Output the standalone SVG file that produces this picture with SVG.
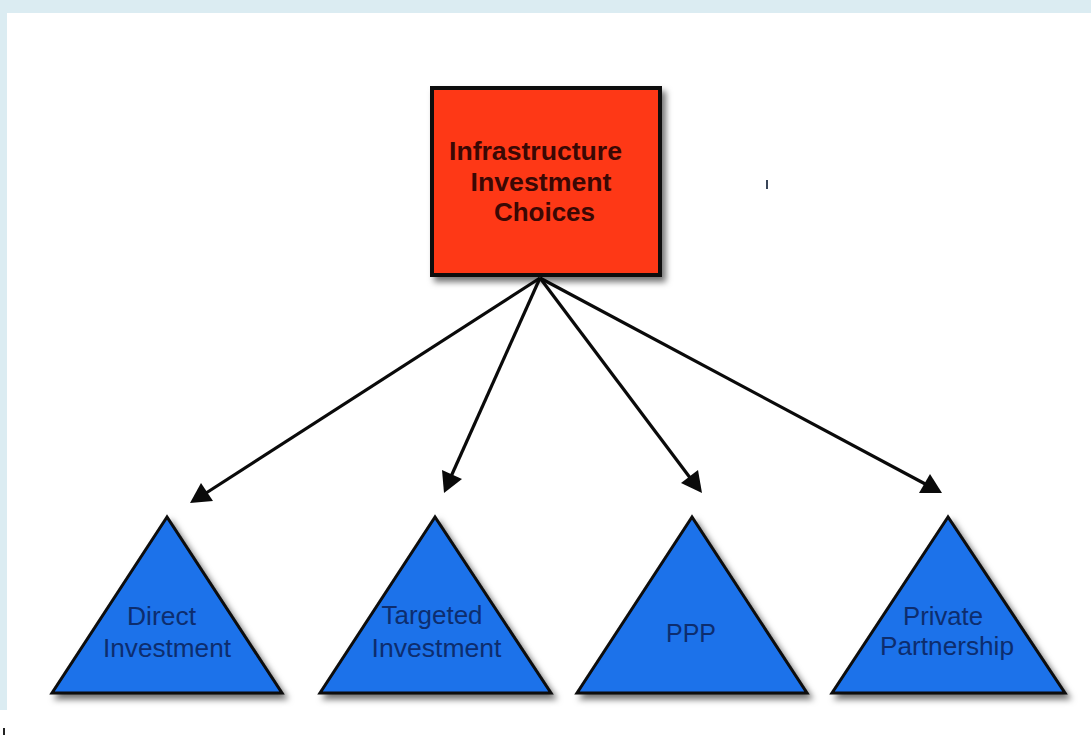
<svg xmlns="http://www.w3.org/2000/svg" width="1091" height="735" viewBox="0 0 1091 735">
  <style>
    .frame { fill: #dbecf2; }
    .root { fill: #fe3812; stroke: #0a0a0a; stroke-width: 4; }
    .leaf { fill: #1b72ea; stroke: #0a0a0a; stroke-width: 3; stroke-linejoin: miter; }
    .root-text { font-family: "Liberation Sans", Arial, sans-serif; font-weight: bold; font-size: 26px; fill: #3a0804; text-anchor: middle; }
    .leaf-text { font-family: "Liberation Sans", Arial, sans-serif; font-size: 26px; fill: #0d2d6e; text-anchor: middle; }
    .edge { stroke: #0a0a0a; stroke-width: 3.2; fill: none; }
    .head { fill: #0a0a0a; }
  </style>
  <defs>
    <filter id="shadow" x="-10%" y="-10%" width="130%" height="130%">
      <feDropShadow dx="4" dy="5" stdDeviation="3" flood-color="#000" flood-opacity="0.55"/>
    </filter>
  </defs>

  <!-- page background with light blue frame -->
  <rect x="0" y="0" width="1091" height="735" fill="#ffffff"/>
  <rect class="frame" x="0" y="0" width="1091" height="13"/>
  <rect class="frame" x="0" y="0" width="7" height="710"/>
  <rect x="3" y="728" width="2" height="7" fill="#222"/>
  <rect x="766" y="180" width="2" height="9" fill="#3a4658"/>

  <!-- connectors -->
  <g id="connectors">
    <line class="edge" x1="540" y1="278" x2="203" y2="495"/>
    <polygon class="head" points="190,503 201,483 213,501"/>
    <line class="edge" x1="540" y1="278" x2="449" y2="481"/>
    <polygon class="head" points="444,493 442,470 462,479"/>
    <line class="edge" x1="540" y1="278" x2="694" y2="483"/>
    <polygon class="head" points="702,493 681,483 698,470"/>
    <line class="edge" x1="540" y1="278" x2="929" y2="486"/>
    <polygon class="head" points="942,493 919,493 930,474"/>
  </g>

  <!-- root node -->
  <g id="node-root">
    <rect class="root" x="432" y="88" width="228" height="187" filter="url(#shadow)"/>
    <text class="root-text" x="535.5" y="160" textLength="173" lengthAdjust="spacingAndGlyphs">Infrastructure</text>
    <text class="root-text" x="541" y="191" textLength="141" lengthAdjust="spacingAndGlyphs">Investment</text>
    <text class="root-text" x="544.5" y="221" textLength="101" lengthAdjust="spacingAndGlyphs">Choices</text>
  </g>

  <!-- leaf nodes -->
  <g id="node-direct">
    <polygon class="leaf" points="167,517 52,693 282,693" filter="url(#shadow)"/>
    <text class="leaf-text" x="161.5" y="625" textLength="69" lengthAdjust="spacingAndGlyphs">Direct</text>
    <text class="leaf-text" x="167" y="657" textLength="128" lengthAdjust="spacingAndGlyphs">Investment</text>
  </g>
  <g id="node-targeted">
    <polygon class="leaf" points="435,517 320,693 551,693" filter="url(#shadow)"/>
    <text class="leaf-text" x="432" y="624" textLength="101" lengthAdjust="spacingAndGlyphs">Targeted</text>
    <text class="leaf-text" x="436.5" y="657" textLength="130" lengthAdjust="spacingAndGlyphs">Investment</text>
  </g>
  <g id="node-ppp">
    <polygon class="leaf" points="692,517 577,693 807,693" filter="url(#shadow)"/>
    <text class="leaf-text" x="691" y="642" textLength="50" lengthAdjust="spacingAndGlyphs">PPP</text>
  </g>
  <g id="node-private">
    <polygon class="leaf" points="948,517 832,693 1065,693" filter="url(#shadow)"/>
    <text class="leaf-text" x="943" y="625" textLength="80" lengthAdjust="spacingAndGlyphs">Private</text>
    <text class="leaf-text" x="947" y="655" textLength="134" lengthAdjust="spacingAndGlyphs">Partnership</text>
  </g>
</svg>
